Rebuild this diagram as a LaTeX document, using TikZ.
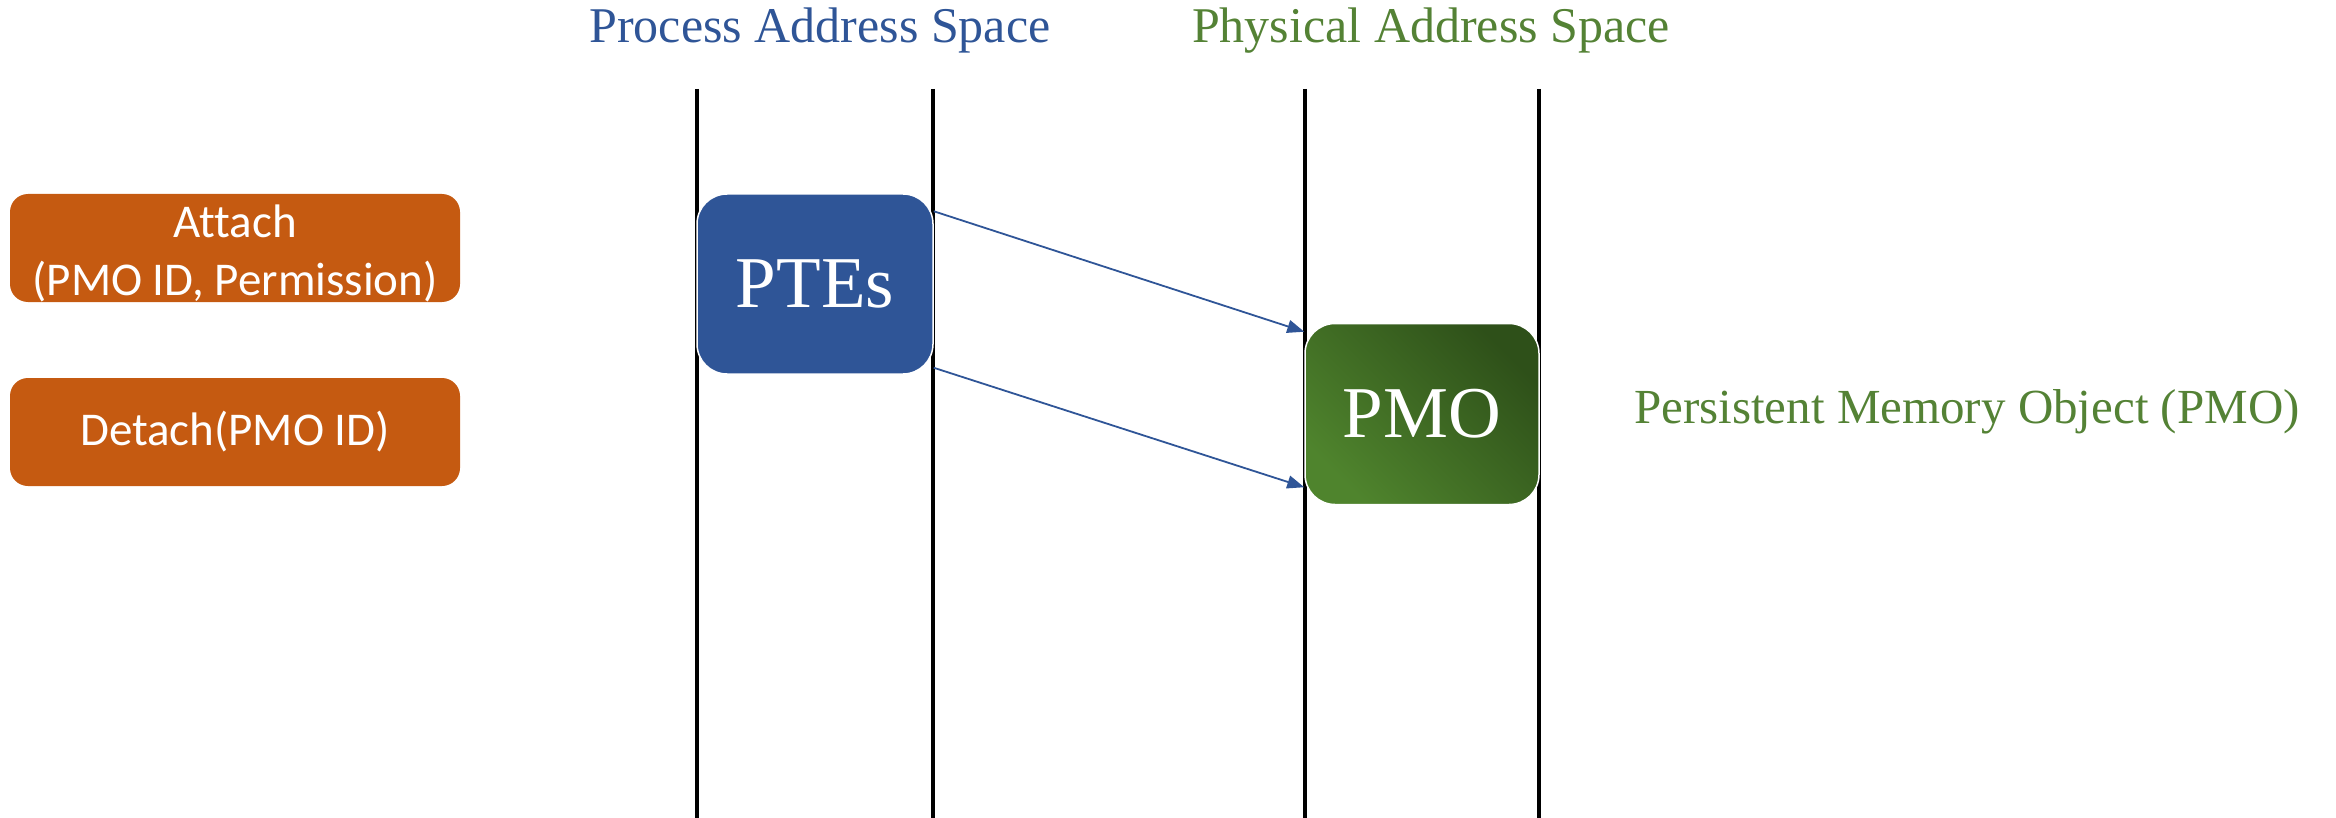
\documentclass[tikz,border=0pt]{standalone}
\usepackage{fontspec}
\setmainfont{Liberation Serif}
\newfontfamily\boxfont[Ligatures=NoCommon]{Carlito}
\usetikzlibrary{arrows.meta}
\definecolor{procblue}{HTML}{2F5597}
\definecolor{physgreen}{HTML}{548235}
\definecolor{callorange}{HTML}{C55A11}
\definecolor{pmolight}{HTML}{4F842D}
\definecolor{pmodark}{HTML}{2E5019}
\begin{document}
\begin{tikzpicture}[x=1pt,y=-1pt,
  callfont/.style={text=white, font=\boxfont\fontsize{47}{58}\selectfont,
    align=center},
  callbox/.style={callfont, rectangle, rounded corners=18pt, fill=callorange,
    minimum width=450pt, minimum height=108pt, inner sep=0pt},
  spacebox/.style={rectangle, rounded corners=30pt, draw=white, line width=1.5pt,
    text=white, font=\fontsize{73}{80}\selectfont, inner sep=0pt},
  title/.style={anchor=base, inner sep=0pt, font=\fontsize{50}{56}\selectfont},
  lane/.style={line width=3.5pt, black},
  arr/.style={draw=procblue, line width=1.8pt, -{Triangle[length=17pt,width=13pt]}}]
  \useasboundingbox (0,0) rectangle (2336,818);

  % lane boundaries of the two address spaces
  \foreach \x in {697,933,1305,1539}
    \draw[lane] (\x,89) -- (\x,818);

  % headings
  \node[title, text=procblue] (proc) at (820,43) {Process Address Space};
  \node[title, text=physgreen] (phys) at (1431,43) {Physical Address Space};

  % system calls
  \node[callbox] (attach) at (235,248) {};
  \node[callfont, inner sep=0pt] (attachtext) at (235,253)
    {Attach\\(PMO ID, Permission)};
  \node[callbox] (detach) at (235,432) {Detach(PMO ID)};

  % page table entries and the memory object
  \node[spacebox, fill=procblue, minimum width=236pt, minimum height=180pt]
    (pte) at (815,284) {PTEs};
  \node[spacebox, top color=pmodark, bottom color=pmolight, shading angle=-45,
    minimum width=234pt, minimum height=181pt]
    (pmo) at (1422,414) {PMO};

  \node[anchor=base west, inner sep=0pt, text=physgreen,
    font=\fontsize{49}{56}\selectfont] (pmolabel) at (1634,423)
    {Persistent Memory Object (PMO)};

  % mappings
  \draw[arr] ([yshift=-18pt]pte.north east) -- ([yshift=-9pt]pmo.north west);
  \draw[arr] ([yshift=7pt]pte.south east) -- ([yshift=18pt]pmo.south west);
\end{tikzpicture}
\end{document}
